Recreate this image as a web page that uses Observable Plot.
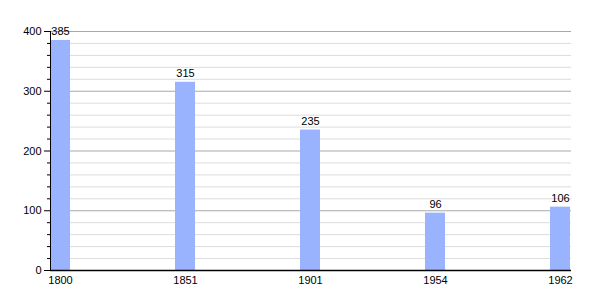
<!DOCTYPE html>
<html>
<head>
<meta charset="utf-8">
<script src="https://cdn.jsdelivr.net/npm/d3@7"></script>
<script src="https://cdn.jsdelivr.net/npm/@observablehq/plot@0.6"></script>
<style>
  html, body { margin: 0; padding: 0; background: #fff; }
  #chart svg { display: block; }
</style>
</head>
<body>
<div id="chart"></div>
<script>
const years = ["1800", "1851", "1901", "1954", "1962"];
const population = [385, 315, 235, 96, 106];
const majorTicks = [0, 100, 200, 300, 400];
const minorTicks = [20, 40, 60, 80, 120, 140, 160, 180, 220, 240, 260, 280, 320, 340, 360, 380];

const data = years.map((year, i) => ({year, value: population[i]}));

const chart = Plot.plot({
  width: 600,
  height: 300,
  marginLeft: 50,
  marginRight: 29,
  marginTop: 31,
  marginBottom: 30,
  style: {fontFamily: "'Liberation Sans', Arial, sans-serif", fontSize: "11px", color: "#000", background: "#fff"},
  x: {type: "band", domain: years, paddingInner: 0.84, paddingOuter: 0, align: 0, label: null},
  y: {domain: [0, 400], label: null},
  marks: [
    Plot.ruleY(minorTicks, {stroke: "#dcdcdc", strokeWidth: 1}),
    Plot.ruleY(majorTicks, {stroke: "#a8a8a8", strokeWidth: 1}),
    Plot.barY(data, {x: "year", y: "value", fill: "#99b3ff", inset: 0}),
    Plot.text(data, {x: "year", y: "value", text: d => String(d.value), dy: -9, fill: "#000", fontSize: 11}),
    Plot.axisY(minorTicks, {tickSize: 3, text: null, label: null, stroke: "#000"}),
    Plot.axisY(majorTicks, {tickSize: 6, tickPadding: 3, label: null, stroke: "#000", fontSize: 11}),
    Plot.axisX({tickSize: 0, tickPadding: 6, label: null, fontSize: 11}),
    Plot.frame({anchor: "left", stroke: "#000"}),
    Plot.ruleY([0], {stroke: "#000", strokeWidth: 1.5})
  ]
});
document.getElementById("chart").appendChild(chart);
</script>
</body>
</html>
